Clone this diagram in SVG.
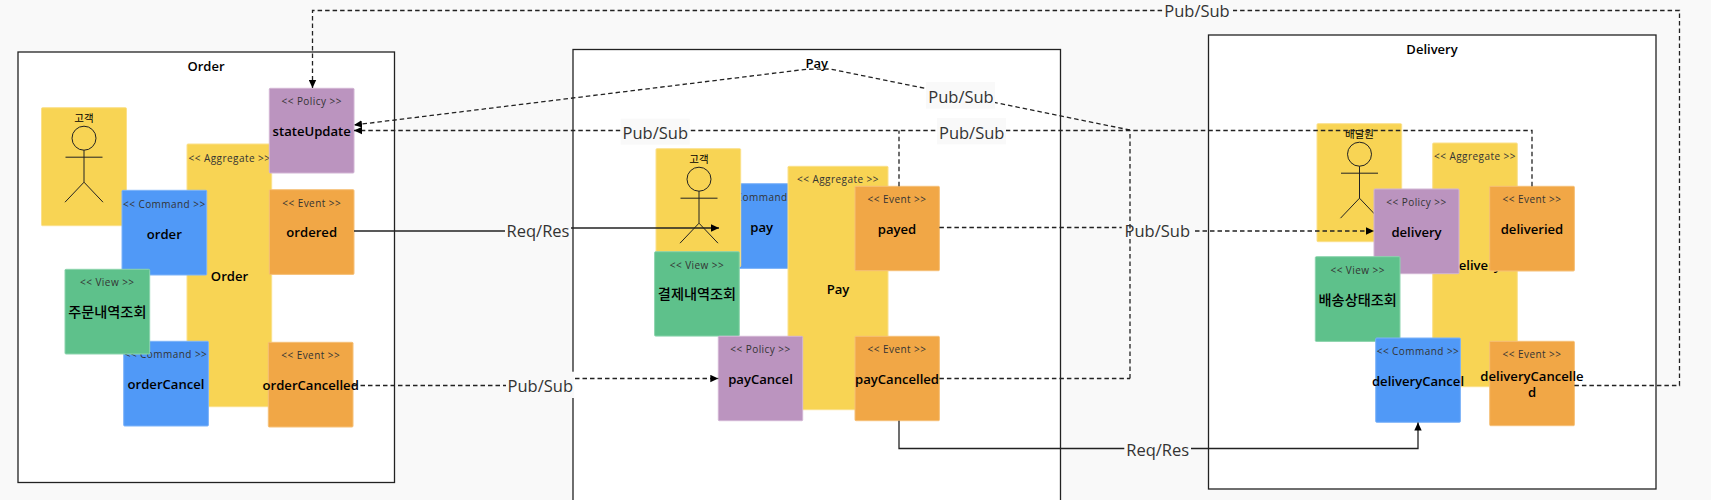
<svg xmlns="http://www.w3.org/2000/svg" width="1711" height="500" viewBox="0 0 1711 500">
<style>
text{font-family:"Open Sans","Noto Sans CJK KR",sans-serif;text-anchor:middle;fill:#000}
.ctx{fill:#fff;stroke:#222;stroke-width:1.3}
.title{font-size:13px;font-weight:600}
.st{font-size:10px;fill:#333;letter-spacing:.45px}
.nm{font-size:13.1px;font-weight:600}
.ko{font-size:14.2px;font-weight:500;font-family:"Noto Sans CJK KR",sans-serif}
.aggr{fill:#f8d454;stroke:#fbe08a}
.cmd{fill:#5099f7;stroke:#7db3f9}
.evt{fill:#f1a746;stroke:#f6c078}
.pol{fill:#bb94bf;stroke:#d2b5d4}
.view{fill:#5ec18b;stroke:#8cd4ad}
.act{font-size:10.5px;font-weight:400;font-family:"Noto Sans CJK KR",sans-serif}
.fig{fill:none;stroke:#222;stroke-width:1}
.c{fill:none;stroke:#222;stroke-width:1.3}
.d{stroke-dasharray:4.5 3}
.lbg{fill:#f9f9f9}
.lb{font-size:16.5px;fill:#333}
</style>
<defs>
<marker id="ah" markerUnits="userSpaceOnUse" markerWidth="9" markerHeight="8" refX="8" refY="4" orient="auto"><path d="M0,0.3 L8,4 L0,7.7 Z" fill="#000"/></marker>
<g id="fig"><circle cx="0" cy="30.5" r="12" class="fig"/><path class="fig" d="M0,42.5 V74.5 M-18.5,49.5 H18.5 M0,74.5 L-19,94.5 M0,74.5 L19,94.5"/></g>
</defs>
<rect x="0" y="0" width="1711" height="500" fill="#f9f9f9"/>

<g id="ctx-order"><rect class="ctx" x="18" y="52" width="376.5" height="430.5"/><text class="title" x="206" y="70.5">Order</text></g>
<g id="ctx-pay"><rect class="ctx" x="573" y="49.5" width="487.5" height="480"/><text class="title" x="816.8" y="68">Pay</text></g>
<g id="ctx-delivery"><rect class="ctx" x="1208.5" y="35" width="447.5" height="454"/><text class="title" x="1432" y="54">Delivery</text></g>

<g id="actor-order"><rect class="aggr" x="41.5" y="107.7" width="85" height="118" rx="1"/><text class="act" x="84" y="121.5">고객</text><use href="#fig" x="84" y="107.7"/></g>
<g id="aggregate-order"><rect class="aggr" x="187" y="144" width="84.7" height="262.7" rx="1"/><text class="st" x="229.5" y="161.7">&lt;&lt; Aggregate &gt;&gt;</text><text class="nm" x="229.5" y="280.5">Order</text></g>
<g id="policy-stateUpdate"><rect class="pol" x="269.3" y="88.3" width="84.7" height="84.7" rx="1"/><text class="st" x="311.7" y="105">&lt;&lt; Policy &gt;&gt;</text><text class="nm" x="311.7" y="135.5">stateUpdate</text></g>
<g id="event-ordered"><rect class="evt" x="269.3" y="189.7" width="84.7" height="84.7" rx="1"/><text class="st" x="311.7" y="207">&lt;&lt; Event &gt;&gt;</text><text class="nm" x="311.7" y="237.3">ordered</text></g>
<g id="command-order"><rect class="cmd" x="122" y="190.3" width="84.7" height="84.7" rx="1"/><text class="st" x="164.3" y="207.5">&lt;&lt; Command &gt;&gt;</text><text class="nm" x="164.3" y="238.5">order</text></g>
<g id="command-orderCancel"><rect class="cmd" x="123.7" y="341.3" width="84.7" height="84.7" rx="1"/><text class="st" x="166" y="358">&lt;&lt; Command &gt;&gt;</text><text class="nm" x="166" y="389">orderCancel</text></g>
<g id="view-order"><rect class="view" x="65" y="269.3" width="84.7" height="84.7" rx="1"/><text class="st" x="107.3" y="286">&lt;&lt; View &gt;&gt;</text><text class="ko" x="107.3" y="317">주문내역조회</text></g>
<g id="event-orderCancelled"><rect class="evt" x="268.3" y="342.3" width="84.7" height="84.7" rx="1"/><text class="st" x="310.7" y="359">&lt;&lt; Event &gt;&gt;</text><text class="nm" x="310.7" y="390">orderCancelled</text></g>

<g id="command-pay"><rect class="cmd" x="719.5" y="183.7" width="84.7" height="84.7" rx="1"/><text class="st" x="761.7" y="200.5">&lt;&lt; Command &gt;&gt;</text><text class="nm" x="761.7" y="232">pay</text></g>
<g id="actor-pay"><rect class="aggr" x="656" y="148.7" width="84.7" height="118" rx="1"/><text class="act" x="699" y="162.5">고객</text><use href="#fig" x="699" y="148.7"/></g>
<g id="aggregate-pay"><rect class="aggr" x="788" y="166.3" width="100" height="243.4" rx="1"/><text class="st" x="838" y="182.7">&lt;&lt; Aggregate &gt;&gt;</text><text class="nm" x="838" y="293.5">Pay</text></g>
<g id="event-payed"><rect class="evt" x="855" y="186.3" width="84.4" height="84.4" rx="1"/><text class="st" x="897" y="203">&lt;&lt; Event &gt;&gt;</text><text class="nm" x="897" y="233.5">payed</text></g>
<g id="view-pay"><rect class="view" x="654.6" y="251.7" width="84.7" height="84.4" rx="1"/><text class="st" x="697" y="268.5">&lt;&lt; View &gt;&gt;</text><text class="ko" x="697" y="299">결제내역조회</text></g>
<g id="policy-payCancel"><rect class="pol" x="718.3" y="336.3" width="84.4" height="84.4" rx="1"/><text class="st" x="760.5" y="353">&lt;&lt; Policy &gt;&gt;</text><text class="nm" x="760.5" y="383.5">payCancel</text></g>
<g id="event-payCancelled"><rect class="evt" x="855" y="336.3" width="84.4" height="84.4" rx="1"/><text class="st" x="897" y="353">&lt;&lt; Event &gt;&gt;</text><text class="nm" x="897" y="383.5">payCancelled</text></g>

<g id="actor-delivery"><rect class="aggr" x="1317" y="123.7" width="84.7" height="118" rx="1"/><text class="act" x="1359.5" y="137.5">배달원</text><use href="#fig" x="1359.5" y="123.7"/></g>
<g id="aggregate-delivery"><rect class="aggr" x="1432.7" y="143" width="84.6" height="243.7" rx="1"/><text class="st" x="1475" y="159.7">&lt;&lt; Aggregate &gt;&gt;</text><text class="nm" x="1475" y="270">Delivery</text></g>
<g id="policy-delivery"><rect class="pol" x="1374" y="189" width="85" height="84.7" rx="1"/><text class="st" x="1416.5" y="206">&lt;&lt; Policy &gt;&gt;</text><text class="nm" x="1416.5" y="237">delivery</text></g>
<g id="event-deliveried"><rect class="evt" x="1489.7" y="186.3" width="84.7" height="84.7" rx="1"/><text class="st" x="1532" y="203">&lt;&lt; Event &gt;&gt;</text><text class="nm" x="1532" y="234">deliveried</text></g>
<g id="view-delivery"><rect class="view" x="1315.3" y="256.7" width="84.7" height="84.7" rx="1"/><text class="st" x="1357.7" y="274">&lt;&lt; View &gt;&gt;</text><text class="ko" x="1357.7" y="304.5">배송상태조회</text></g>
<g id="command-deliveryCancel"><rect class="cmd" x="1375.7" y="338" width="84.7" height="84.3" rx="1"/><text class="st" x="1418" y="355">&lt;&lt; Command &gt;&gt;</text><text class="nm" x="1418" y="386">deliveryCancel</text></g>
<g id="event-deliveryCancelled"><rect class="evt" x="1489.7" y="341.3" width="84.7" height="84.4" rx="1"/><text class="st" x="1532" y="358">&lt;&lt; Event &gt;&gt;</text><text class="nm" x="1532" y="381">deliveryCancelle</text><text class="nm" x="1532" y="397">d</text></g>

<g id="connectors">
<path class="c d" d="M1574.4,385.5 H1679.5 V10.5 H312.5 V88" marker-end="url(#ah)"/>
<path class="c d" d="M1130,378.5 V130.5"/>
<path class="c d" d="M939.4,378.5 H1130"/>
<path class="c d" d="M1130,130 L830,69 L806,69.3 L354,125" marker-end="url(#ah)"/>
<path class="c d" d="M1532,186.3 V130.5 H354" marker-end="url(#ah)"/>
<path class="c d" d="M899,186.3 V130.5"/>
<path class="c" d="M354,231 H505"/>
<path class="c" d="M571,228 H719" marker-end="url(#ah)"/>
<path class="c d" d="M353,385.5 H506"/>
<path class="c d" d="M575,378.5 H718.3" marker-end="url(#ah)"/>
<path class="c d" d="M939.4,227.5 H1121.7"/>
<path class="c d" d="M1195,231 H1374" marker-end="url(#ah)"/>
<path class="c" d="M899,420.7 V448.5 H1418 V422.5" marker-end="url(#ah)"/>
<rect class="lbg" x="1163" y="0" width="70" height="24"/>
<rect class="lbg" x="926" y="82" width="69" height="26.7"/>
<rect class="lbg" x="937" y="118" width="69" height="26.3"/>
<rect class="lbg" x="620.6" y="118.7" width="69.2" height="26"/>
<rect class="lbg" x="506.7" y="371.7" width="67.5" height="26.3"/>
<rect class="lbg" x="1124.3" y="436" width="66.7" height="26"/>
<text class="lb" x="1197" y="17">Pub/Sub</text>
<text class="lb" x="961" y="103">Pub/Sub</text>
<text class="lb" x="971.7" y="139">Pub/Sub</text>
<text class="lb" x="655.3" y="139">Pub/Sub</text>
<text class="lb" x="538" y="237">Req/Res</text>
<text class="lb" x="540.3" y="392">Pub/Sub</text>
<text class="lb" x="1157.3" y="237">Pub/Sub</text>
<text class="lb" x="1157.7" y="455.5">Req/Res</text>
</g>
</svg>
